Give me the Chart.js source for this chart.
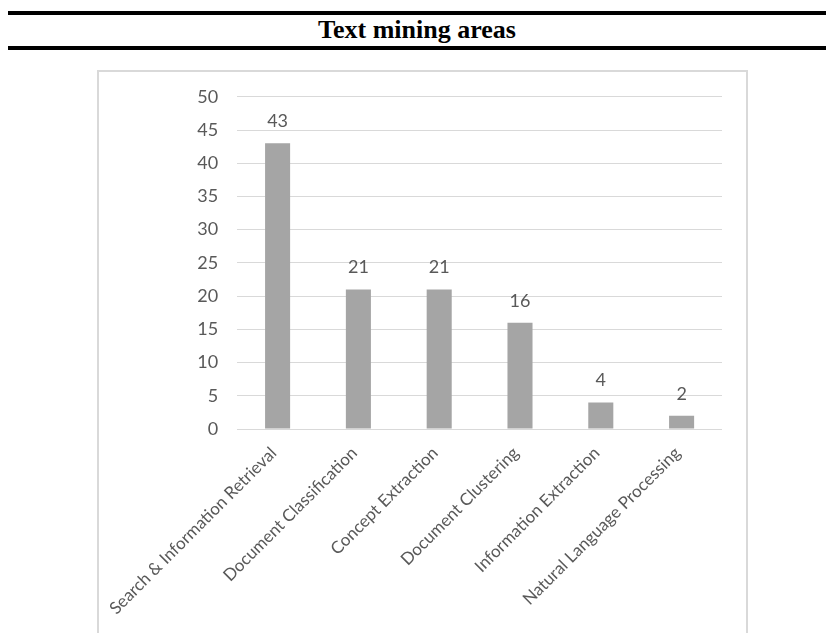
<!DOCTYPE html>
<html lang="en">
<head>
  <meta charset="UTF-8">
  <title>Text mining areas</title>
  <style>
    body { margin: 0; background: #fff; width: 826px; height: 633px; overflow: hidden; position: relative; }
    .rule { position: absolute; left: 8px; right: 0; height: 4px; background: #000; }
    .title { position: absolute; left: 8px; right: 0; top: 15px; text-align: center; font-family: "Liberation Serif", "Times New Roman", serif; font-weight: bold; font-size: 26px; line-height: 30px; color: #000; }
    .box { position: absolute; left: 97px; top: 70px; width: 651px; height: 600px; border: 2px solid #d9d9d9; box-sizing: border-box; }
    .box .wrap { position: absolute; left: 0; top: -5px; width: 647px; height: 596px; }
  </style>
  <script src="https://cdn.jsdelivr.net/npm/chart.js"></script>
</head>
<body>

<div class="rule" style="top: 11px;"></div>
<div class="title">Text mining areas</div>
<div class="rule" style="top: 46px;"></div>

<div class="box">
  <div class="wrap"><canvas id="areasChart"></canvas></div>
</div>

<script>
  const categories = ['Search & Information Retrieval', 'Document Classification', 'Concept Extraction',
                      'Document Clustering', 'Information Extraction', 'Natural Language Processing'];
  const counts = [43, 21, 21, 16, 4, 2];
  const yTicks = [0, 5, 10, 15, 20, 25, 30, 35, 40, 45, 50];

  const textColor = '#595959';
  const numFont = { family: 'Lato, sans-serif', size: 18 };
  const catFont = { family: 'Lato, sans-serif', size: 17 };

  // values above bars, placed from the bar elements
  const valueLabels = {
    id: 'valueLabels',
    afterDatasetsDraw(chart) {
      const ctx = chart.ctx;
      const meta = chart.getDatasetMeta(0);
      ctx.save();
      ctx.fillStyle = textColor;
      ctx.font = numFont.size + 'px ' + numFont.family;
      ctx.textAlign = 'center';
      ctx.textBaseline = 'alphabetic';
      meta.data.forEach((bar, i) => {
        ctx.fillText(String(counts[i]), bar.x, bar.y - 16);
      });
      ctx.restore();
    }
  };

  new Chart(document.getElementById('areasChart'), {
    type: 'bar',
    data: {
      labels: categories,
      datasets: [{
        data: counts,
        backgroundColor: '#a5a5a5',
        borderWidth: 0,
        categoryPercentage: 1,
        barPercentage: 0.31
      }]
    },
    options: {
      responsive: true,
      maintainAspectRatio: false,
      animation: false,
      layout: { padding: { top: 20, right: 24, left: 0, bottom: 0 } },
      plugins: { legend: { display: false }, tooltip: { enabled: false } },
      scales: {
        y: {
          min: yTicks[0],
          max: yTicks[yTicks.length - 1],
          afterBuildTicks(scale) { scale.ticks = yTicks.map(v => ({ value: v })); },
          afterFit(scale) { scale.width = 138; },
          border: { display: false },
          grid: { color: '#d9d9d9', lineWidth: 1, drawTicks: false },
          ticks: { color: textColor, font: numFont, padding: 19 }
        },
        x: {
          afterFit(scale) { scale.height = 234; },
          border: { display: false },
          grid: { display: false },
          ticks: { color: textColor, font: catFont, autoSkip: false, minRotation: 45, maxRotation: 45, padding: 6, labelOffset: -4 }
        }
      }
    },
    plugins: [valueLabels]
  });
</script>

</body>
</html>
